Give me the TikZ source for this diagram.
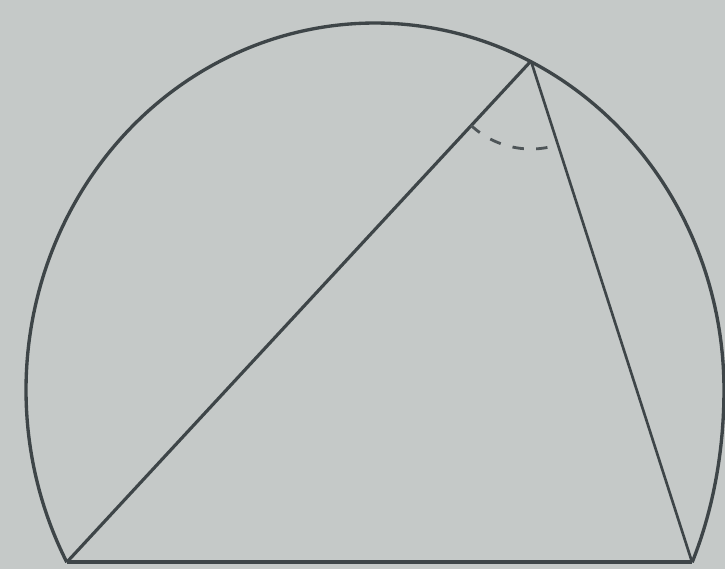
\documentclass[tikz,border=0pt]{standalone}
\usepackage{xcolor}
\definecolor{pageground}{HTML}{C5C9C8}
\definecolor{figink}{HTML}{3E4548}
\definecolor{figmuted}{HTML}{4E5558}

\begin{document}
\begin{tikzpicture}[
  x=0.02cm,
  y=-0.02cm,
  outline/.style={figink, line width=1.9pt, line join=round},
  chord/.style={figink, line width=1.8pt},
  base/.style={figink, line width=2.6pt},
  side/.style={figink, line width=1.5pt},
  anglemark/.style={figmuted, line width=1.6pt, dash pattern=on 6.5pt off 7pt}
]
  % ---- page: same proportions as the scanned figure
  \fill[pageground] (0,0) rectangle (725,569);
  \useasboundingbox (0,0) rectangle (725,569);

  % ---- triangle corners: two ends of the base chord, apex on the arc
  \coordinate (A) at (67,562);
  \coordinate (B) at (692,562);
  \coordinate (C) at (531,61);

  % ---- the major arc over the base chord (the scan is a little
  %      wider at its lower right, hence the extra term)
  \draw[outline] plot[domain=152:388, samples=240, smooth]
    ({375+349*cos(\x)+41*(cos(\x)>0)*max(sin(\x),0)^2},{390+367*sin(\x)});

  % ---- chords
  \draw[base] (A) -- (B);
  \draw[chord] (A) -- (C);
  \draw[side] (C) -- (B);

  % ---- inscribed angle at the apex
  \draw[anglemark] plot[domain=133:72, samples=30]
    ({531+88*cos(\x)},{61+88*sin(\x)});
\end{tikzpicture}
\end{document}
